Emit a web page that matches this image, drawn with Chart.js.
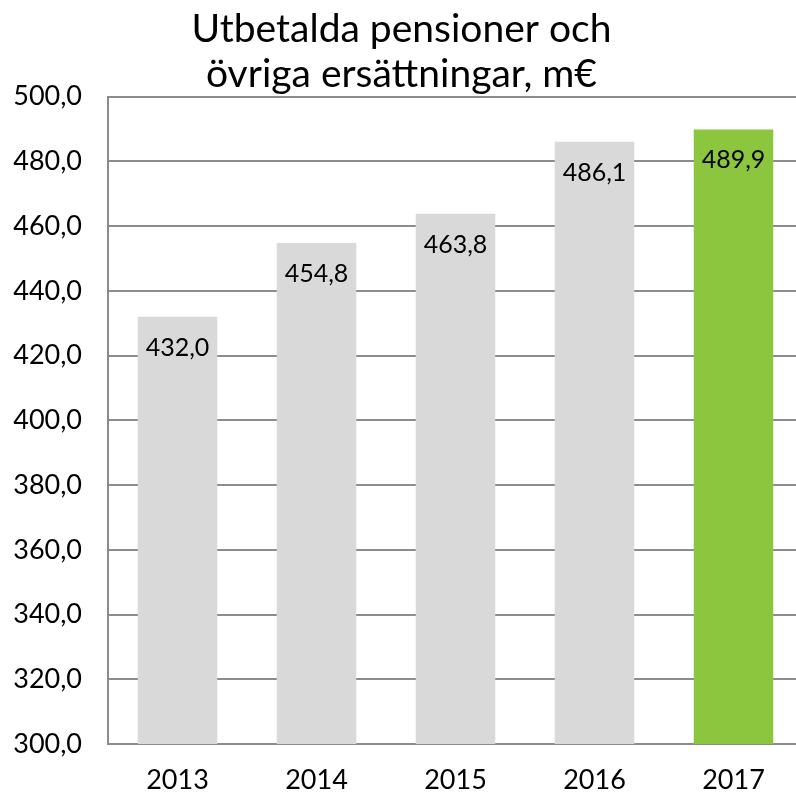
<!DOCTYPE html>
<html>
<head>
<meta charset="utf-8">
<script src="https://cdn.jsdelivr.net/npm/chart.js@4"></script>
<style>
  html, body { margin: 0; padding: 0; background: #fff; overflow: hidden; }
  #wrap { width: 796px; height: 799px; overflow: hidden; }
</style>
</head>
<body>
<div id="wrap"><canvas id="graf"></canvas></div>
<script>
let years = ["2013", "2014", "2015", "2016", "2017"];
let paid = [432.0, 454.8, 463.8, 486.1, 489.9];
let barColors = ["#d9d9d9", "#d9d9d9", "#d9d9d9", "#d9d9d9", "#8cc63f"];
let titleLines = ["Utbetalda pensioner och", "övriga ersättningar, m€"];

const fmt = (v) => v.toFixed(1).replace(".", ",");

// etiketter inne i staplarna, nära toppen
const barLabels = {
    id: "barLabels",
    afterDatasetsDraw(chart) {
        const ctx = chart.ctx;
        const meta = chart.getDatasetMeta(0);
        ctx.save();
        ctx.font = "25px Lato";
        ctx.fillStyle = "#000";
        ctx.textAlign = "center";
        ctx.textBaseline = "middle";
        meta.data.forEach((bar, i) => {
            ctx.fillText(fmt(paid[i]), bar.x, bar.y + 31);
        });
        ctx.restore();
    }
};

const config = {
    type: "bar",
    data: {
        labels: years,
        datasets: [{
            data: paid,
            backgroundColor: barColors,
            borderWidth: 0,
            categoryPercentage: 1,
            barPercentage: 0.572
        }]
    },
    options: {
        responsive: false,
        animation: false,
        layout: {
            padding: { left: 0, right: 0, top: 0, bottom: 0 }
        },
        plugins: {
            legend: { display: false },
            tooltip: { enabled: false },
            title: {
                display: true,
                text: titleLines,
                color: "#000",
                font: { family: "Lato", size: 39, weight: "normal", lineHeight: 1.15 },
                padding: { top: 7, bottom: 0 }
            }
        },
        scales: {
            x: {
                grid: { display: false },
                border: { color: "#8c8c8c", width: 2 },
                ticks: { color: "#000", font: { family: "Lato", size: 27 }, padding: 12 },
                afterFit: (scale) => { scale.height = 55; }
            },
            y: {
                min: 300,
                max: 500,
                ticks: {
                    stepSize: 20,
                    color: "#000",
                    font: { family: "Lato", size: 27 },
                    padding: 26,
                    callback: (v) => fmt(v)
                },
                grid: { color: "#8c8c8c", lineWidth: 2, drawTicks: false },
                border: { color: "#8c8c8c", width: 2 },
                afterFit: (scale) => { scale.width = 108; }
            }
        }
    },
    plugins: [barLabels]
};

// canvas lite bredare än fönstret, högerkanten klipps som i originalet
const canvas = document.getElementById("graf");
canvas.width = 803;
canvas.height = 799;
new Chart(canvas, config);
</script>
</body>
</html>
